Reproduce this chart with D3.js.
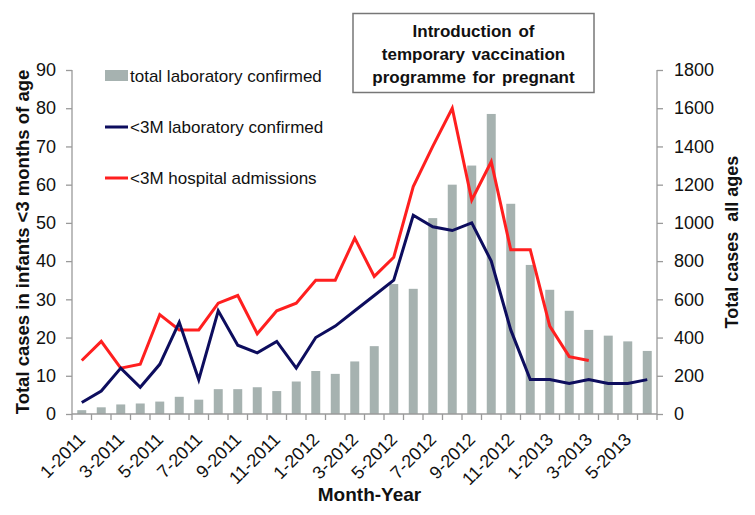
<!DOCTYPE html>
<html lang="en">
<head>
<meta charset="UTF-8">
<title>Pertussis cases</title>
<script src="https://cdn.jsdelivr.net/npm/d3@7"></script>
<style>
  body { margin: 0; background: #fff; }
  text { font-family: "Liberation Sans", Arial, sans-serif; }
</style>
</head>
<body>
<svg width="755" height="515"></svg>
<script>
// months shown on the x axis
var months = ['1-2011','2-2011','3-2011','4-2011','5-2011','6-2011','7-2011','8-2011','9-2011','10-2011','11-2011','12-2011',
  '1-2012','2-2012','3-2012','4-2012','5-2012','6-2012','7-2012','8-2012','9-2012','10-2012','11-2012','12-2012',
  '1-2013','2-2013','3-2013','4-2013','5-2013','6-2013'];
// total laboratory confirmed, all ages (right axis)
var totalLab = [20,35,50,55,65,90,75,130,130,140,120,170,225,210,275,355,680,655,1025,1200,1300,1570,1100,780,650,540,440,410,380,330];
// <3M laboratory confirmed (left axis)
var infantLab = [3,6,12,7,13,24,9,27,18,16,19,12,20,23,27,31,35,52,49,48,50,40,22,9,9,8,9,8,8,9];
// <3M hospital admissions (left axis), stops at 3-2013
var infantHosp = [14,19,12,13,26,22,22,29,31,21,27,29,35,35,46,36,41,59.5,70,80,56,66,43,43,23,15,14];
var leftTicks = d3.range(0, 91, 10);
var rightTicks = d3.range(0, 1801, 200);

var svg = d3.select('svg');
var pLeft = 72, pRight = 657, pTop = 70, pBottom = 414;
var axisColor = '#9a9a9a';

var x = d3.scaleBand().domain(months).range([pLeft, pRight]).paddingInner(0.54).paddingOuter(0.27);
var yL = d3.scaleLinear().domain([0, 90]).range([pBottom, pTop]);
var yR = d3.scaleLinear().domain([0, 1800]).range([pBottom, pTop]);
var cx = function(m) { return x(m) + x.bandwidth() / 2; };

// bars
svg.append('g').selectAll('rect').data(totalLab).enter().append('rect')
  .attr('x', function(d, i) { return x(months[i]); })
  .attr('y', function(d) { return yR(d); })
  .attr('width', x.bandwidth())
  .attr('height', function(d) { return yR(0) - yR(d); })
  .attr('fill', '#a6b2b0');

// axes
var gl = svg.append('g').attr('transform', 'translate(' + pLeft + ',0)')
  .call(d3.axisLeft(yL).tickValues(leftTicks).tickSize(6).tickPadding(10));
var gr = svg.append('g').attr('transform', 'translate(' + pRight + ',0)')
  .call(d3.axisRight(yR).tickValues(rightTicks).tickFormat(d3.format('d')).tickSize(6).tickPadding(11));
[gl, gr].forEach(function(g) {
  g.select('.domain').attr('stroke', axisColor).attr('stroke-width', 1.3).attr('d', 'M0,' + pTop + 'V' + pBottom);
  g.selectAll('.tick line').attr('stroke', axisColor).attr('stroke-width', 1.3);
  g.selectAll('.tick text').attr('font-size', 18).attr('fill', '#111').attr('font-family', '"Liberation Sans", Arial, sans-serif');
});

// x axis line with ticks at band boundaries
var gx = svg.append('g');
gx.append('line').attr('x1', pLeft).attr('x2', pRight).attr('y1', pBottom).attr('y2', pBottom)
  .attr('stroke', axisColor).attr('stroke-width', 1.3);
var bounds = months.map(function(m) { return cx(m) - x.step() / 2; }).concat([pRight]);
gx.selectAll('line.tk').data(bounds).enter().append('line').attr('class', 'tk')
  .attr('x1', function(d) { return d; }).attr('x2', function(d) { return d; })
  .attr('y1', pBottom).attr('y2', pBottom + 6)
  .attr('stroke', axisColor).attr('stroke-width', 1.3);
gx.selectAll('text').data(months.filter(function(m, i) { return i % 2 === 0; })).enter().append('text')
  .attr('transform', function(m) { return 'translate(' + (cx(m) - 5) + ',' + (pBottom + 17) + ') rotate(-45)'; })
  .attr('text-anchor', 'end').attr('dy', '0.75em')
  .attr('font-size', 18).attr('fill', '#111')
  .text(function(m) { return m; });

// lines
var lineL = d3.line().x(function(d, i) { return cx(months[i]); }).y(function(d) { return yL(d); });
svg.append('path').datum(infantHosp).attr('d', lineL)
  .attr('fill', 'none').attr('stroke', '#ff1f1f').attr('stroke-width', 3).attr('stroke-linejoin', 'miter');
svg.append('path').datum(infantLab).attr('d', lineL)
  .attr('fill', 'none').attr('stroke', '#0d0d5e').attr('stroke-width', 3).attr('stroke-linejoin', 'miter');

// axis titles
svg.append('text').attr('transform', 'translate(29,' + ((pTop + pBottom) / 2) + ') rotate(-90)')
  .attr('text-anchor', 'middle').attr('font-size', 18.5).attr('font-weight', 'bold').attr('fill', '#111')
  .text('Total cases in infants <3 months of age');
svg.append('text').attr('transform', 'translate(738,' + ((pTop + pBottom) / 2) + ') rotate(-90)')
  .attr('text-anchor', 'middle').attr('font-size', 18).attr('font-weight', 'bold').attr('fill', '#111')
  .style('white-space', 'pre')
  .text('Total cases  all ages');
svg.append('text').attr('x', (pLeft + pRight) / 2 + 5).attr('y', 501)
  .attr('text-anchor', 'middle').attr('font-size', 19).attr('font-weight', 'bold').attr('fill', '#111')
  .text('Month-Year');

// legend
var legend = [
  { label: 'total laboratory confirmed', color: '#a6b2b0', bar: true, y: 76 },
  { label: '<3M laboratory confirmed', color: '#0d0d5e', bar: false, y: 127 },
  { label: '<3M hospital admissions', color: '#ff1f1f', bar: false, y: 178 }
];
var lg = svg.append('g').selectAll('g').data(legend).enter().append('g');
lg.append('rect')
  .attr('x', 105).attr('width', 23)
  .attr('y', function(d) { return d.bar ? d.y - 6 : d.y - 1.5; })
  .attr('height', function(d) { return d.bar ? 11 : 3; })
  .attr('fill', function(d) { return d.color; });
lg.append('text').attr('x', 130).attr('y', function(d) { return d.y + 6; })
  .attr('font-size', 17).attr('fill', '#111')
  .text(function(d) { return d.label; });

// annotation box
svg.append('rect').attr('x', 353).attr('y', 13.5).attr('width', 241).attr('height', 79)
  .attr('fill', '#fff').attr('stroke', '#777').attr('stroke-width', 1.5);
['Introduction of', 'temporary vaccination', 'programme for pregnant'].forEach(function(t, i) {
  svg.append('text').attr('x', 473.5).attr('y', 37 + i * 23)
    .attr('text-anchor', 'middle').attr('font-size', 17).attr('font-weight', 'bold').attr('fill', '#111')
    .attr('word-spacing', 2)
    .text(t);
});
</script>
</body>
</html>
